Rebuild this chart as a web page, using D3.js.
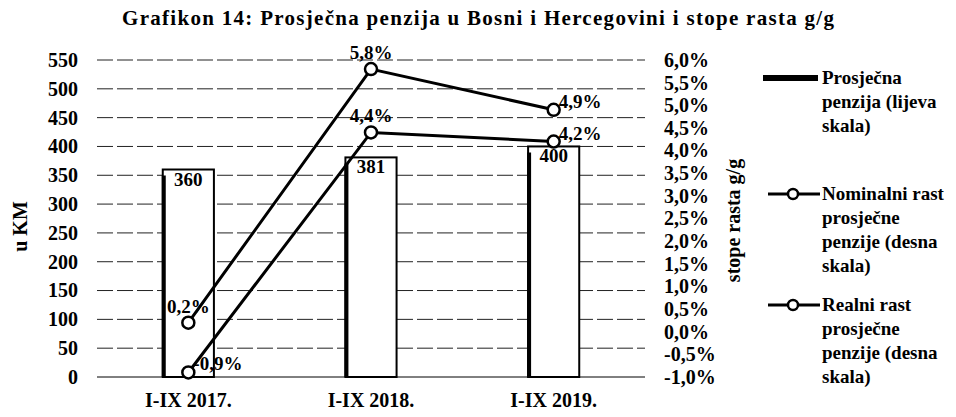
<!DOCTYPE html>
<html>
<head>
  <script src="https://cdnjs.cloudflare.com/ajax/libs/d3/7.8.5/d3.min.js"></script>
  <style>
    body { margin: 0; background: white; }
    text { font-family: "Liberation Serif", "Times New Roman", serif; font-weight: bold; fill: #000; }
  </style>
</head>
<body>
  <div id="chart"></div>
  <script>
    // data
    const categories = ["I-IX 2017.", "I-IX 2018.", "I-IX 2019."];
    const pension = [360, 381, 400];
    const nominalGrowth = [0.2, 5.8, 4.9];
    const realGrowth = [-0.9, 4.4, 4.2];
    const leftTicks = d3.range(0, 551, 50);
    const rightTicks = d3.range(-1, 6.01, 0.5);

    const width = 956, height = 417;
    const plot = { left: 97, right: 645, top: 60, bottom: 377 };

    const svg = d3.select("#chart").append("svg")
      .attr("width", width)
      .attr("height", height);

    const x = d3.scaleBand()
      .domain(categories)
      .range([plot.left, plot.right])
      .paddingInner(0.72)
      .paddingOuter(0.36);

    const yLeft = d3.scaleLinear().domain([0, 550]).range([plot.bottom, plot.top]);
    const yRight = d3.scaleLinear().domain([-1, 6]).range([plot.bottom, plot.top]);

    const fmtPct = d => d3.format(".1f")(d).replace(".", ",").replace("\u2212", "-") + "%";

    // title
    svg.append("text")
      .attr("x", 478).attr("y", 25)
      .attr("text-anchor", "middle")
      .attr("textLength", 712)
      .style("font-size", "21px")
      .text("Grafikon 14: Prosječna penzija u Bosni i Hercegovini i stope rasta g/g");

    // gridlines
    svg.append("g")
      .selectAll("line")
      .data(leftTicks.filter(d => d > 0))
      .join("line")
      .attr("x1", plot.left).attr("x2", plot.right)
      .attr("y1", d => yLeft(d)).attr("y2", d => yLeft(d))
      .attr("stroke", "#222")
      .attr("stroke-width", 1)
      .attr("stroke-dasharray", "16,4");

    // left axis
    const axisL = svg.append("g")
      .attr("transform", `translate(${plot.left - 19},0)`)
      .call(d3.axisLeft(yLeft).tickValues(leftTicks).tickSize(0).tickPadding(0));
    axisL.select(".domain").remove();
    axisL.selectAll("text").style("font-size", "20px");

    // right axis
    const axisR = svg.append("g")
      .attr("transform", `translate(${plot.right + 19},0)`)
      .call(d3.axisRight(yRight).tickValues(rightTicks).tickSize(0).tickPadding(0).tickFormat(fmtPct));
    axisR.select(".domain").remove();
    axisR.selectAll("text").style("font-size", "20px");

    // axis titles
    svg.append("text")
      .attr("transform", `translate(27,${(plot.top + plot.bottom) / 2 + 8}) rotate(-90)`)
      .attr("text-anchor", "middle")
      .style("font-size", "20px")
      .text("u KM");

    svg.append("text")
      .attr("transform", `translate(740,${(plot.top + plot.bottom) / 2 + 2}) rotate(-90)`)
      .attr("text-anchor", "middle")
      .style("font-size", "20px")
      .text("stope rasta g/g");

    // bars
    const bars = svg.append("g").selectAll("g")
      .data(pension)
      .join("g");

    bars.append("rect")
      .attr("x", (d, i) => x(categories[i]))
      .attr("y", d => yLeft(d))
      .attr("width", x.bandwidth())
      .attr("height", d => yLeft(0) - yLeft(d))
      .attr("fill", "white")
      .attr("stroke", "#000")
      .attr("stroke-width", 2);

    bars.append("line")
      .attr("x1", (d, i) => x(categories[i]) + 1)
      .attr("x2", (d, i) => x(categories[i]) + 1)
      .attr("y1", d => yLeft(d) + 6)
      .attr("y2", yLeft(0))
      .attr("stroke", "#000")
      .attr("stroke-width", 4);

    bars.append("text")
      .attr("x", (d, i) => x(categories[i]) + x.bandwidth() / 2)
      .attr("y", d => yLeft(d) + 16)
      .attr("text-anchor", "middle")
      .style("font-size", "19px")
      .text(d => d);

    // baseline
    svg.append("line")
      .attr("x1", plot.left).attr("x2", plot.right)
      .attr("y1", yLeft(0)).attr("y2", yLeft(0))
      .attr("stroke", "#000").attr("stroke-width", 1);

    // x labels
    svg.append("g")
      .selectAll("text")
      .data(categories)
      .join("text")
      .attr("x", d => x(d) + x.bandwidth() / 2)
      .attr("y", 407)
      .attr("text-anchor", "middle")
      .style("font-size", "20px")
      .text(d => d);

    // lines
    const cx = i => x(categories[i]) + x.bandwidth() / 2;
    const line = d3.line().x((d, i) => cx(i)).y(d => yRight(d));

    const series = [
      { values: nominalGrowth, place: ["above", "above", "right"] },
      { values: realGrowth, place: ["right", "above", "right"] }
    ];

    series.forEach(s => {
      svg.append("path")
        .attr("d", line(s.values))
        .attr("fill", "none")
        .attr("stroke", "#000")
        .attr("stroke-width", 3);

      svg.append("g").selectAll("circle")
        .data(s.values)
        .join("circle")
        .attr("cx", (d, i) => cx(i))
        .attr("cy", d => yRight(d))
        .attr("r", 6)
        .attr("fill", "white")
        .attr("stroke", "#000")
        .attr("stroke-width", 2.5);

      svg.append("g").selectAll("text")
        .data(s.values)
        .join("text")
        .attr("x", (d, i) => s.place[i] === "above" ? cx(i) : cx(i) + 5)
        .attr("y", (d, i) => s.place[i] === "above" ? yRight(d) - 10 : yRight(d) - 2)
        .attr("text-anchor", (d, i) => s.place[i] === "above" ? "middle" : "start")
        .style("font-size", "19px")
        .text(d => fmtPct(d));
    });

    // legend
    const legend = svg.append("g");
    const legendItems = [
      { type: "bar", y: 78, lines: ["Prosječna", "penzija (lijeva", "skala)"] },
      { type: "line", y: 194, lines: ["Nominalni rast", "prosječne", "penzije (desna", "skala)"] },
      { type: "line", y: 305, lines: ["Realni rast", "prosječne", "penzije (desna", "skala)"] }
    ];

    legendItems.forEach(item => {
      if (item.type === "bar") {
        legend.append("rect")
          .attr("x", 763).attr("y", item.y - 3)
          .attr("width", 55).attr("height", 6)
          .attr("fill", "#000");
      } else {
        legend.append("line")
          .attr("x1", 768).attr("x2", 820)
          .attr("y1", item.y).attr("y2", item.y)
          .attr("stroke", "#000").attr("stroke-width", 3);
        legend.append("circle")
          .attr("cx", 793).attr("cy", item.y).attr("r", 5)
          .attr("fill", "white").attr("stroke", "#000").attr("stroke-width", 2.5);
      }
      legend.append("text")
        .attr("x", 822)
        .attr("y", item.y + 6)
        .style("font-size", "19px")
        .selectAll("tspan")
        .data(item.lines)
        .join("tspan")
        .attr("x", 822)
        .attr("dy", (d, i) => i === 0 ? 0 : 24)
        .text(d => d);
    });
  </script>
</body>
</html>
